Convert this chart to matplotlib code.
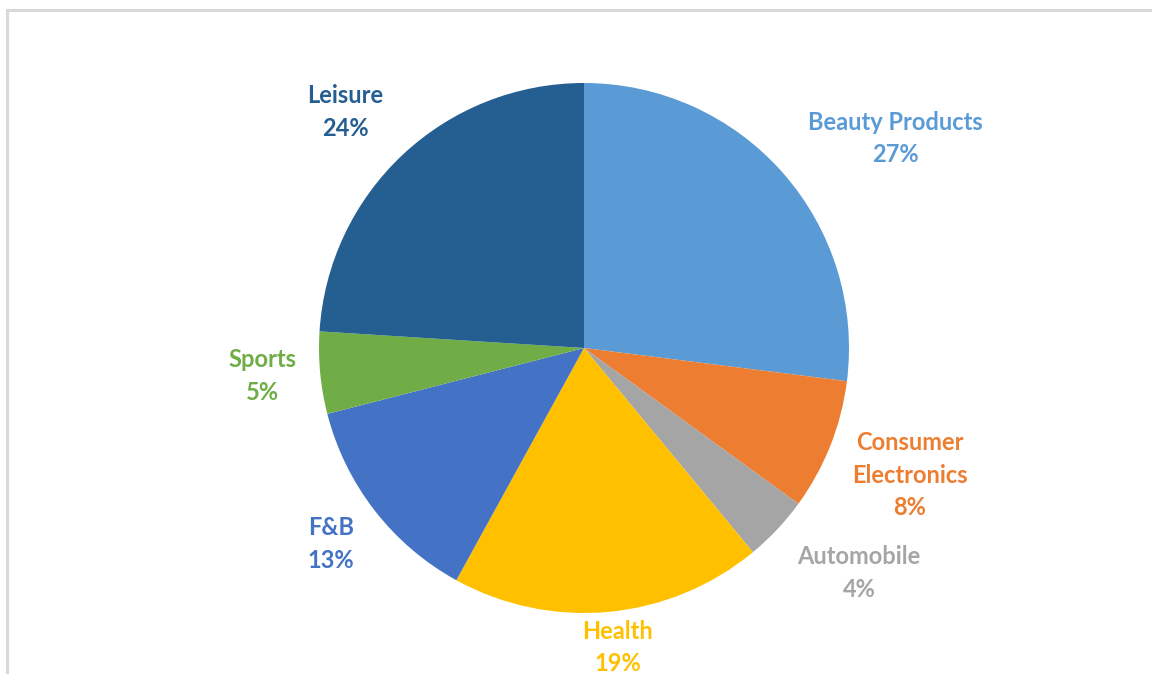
import matplotlib
matplotlib.use("Agg")
import matplotlib.pyplot as plt
from matplotlib.lines import Line2D

# --- data ---
categories = ["Beauty Products", "Consumer\nElectronics", "Automobile", "Health",
              "F&B", "Sports", "Leisure"]
shares = [27, 8, 4, 19, 13, 5, 24]
colors = ["#5B9BD5", "#ED7D31", "#A5A5A5", "#FFC000", "#4472C4", "#70AD47", "#255E91"]

# label anchor points (in units of pie radius)
label_pos = [(1.174, 0.79), (1.23, -0.48), (1.038, -0.85), (0.128, -1.13),
             (-0.955, -0.74), (-1.215, -0.105), (-0.902, 0.89)]

plt.rcParams['font.family'] = ['Lato', 'DejaVu Sans']

W, H = 1152, 674
fig = plt.figure(figsize=(W / 100, H / 100), dpi=100)
ax = fig.add_axes([0, 0, 1, 1])

# pie centre and radius in pixels
cx, cy, r = 584, 348, 265

ax.pie(shares, colors=colors, startangle=90, counterclock=False, radius=1,
       wedgeprops=dict(linewidth=0))

for lab, val, col, (x, y) in zip(categories, shares, colors, label_pos):
    ax.text(x, y, f"{lab}\n{val}%", color=col, fontsize=17, fontweight='bold',
            ha='center', va='center', linespacing=1.5)

ax.set_xlim(-cx / r, (W - cx) / r)
ax.set_ylim(-(H - cy) / r, cy / r)
ax.set_aspect('auto')
ax.axis('off')

# light grey frame (top and left edges)
fig.add_artist(Line2D([7 / W, 1], [1 - 10 / H, 1 - 10 / H], color="#D9D9D9", lw=2.2))
fig.add_artist(Line2D([7 / W, 7 / W], [0, 1 - 10 / H], color="#D9D9D9", lw=2.2))

fig.savefig("out.png", dpi=100)
